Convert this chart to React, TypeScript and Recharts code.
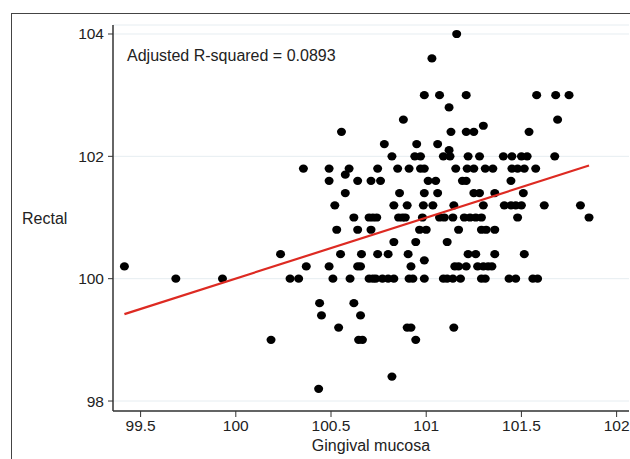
import { ScatterChart, Scatter, XAxis, YAxis, CartesianGrid, Label } from 'recharts';

// rectal temperature rows and the gingival readings found on each row
const rectalLevels = [
  104, 103.6, 103, 102.8, 102.6, 102.5, 102.4, 102.2, 102.1, 102, 101.8, 101.7, 101.6, 101.4,
  101.2, 101, 100.8, 100.6, 100.4, 100.3, 100.2, 100, 99.6, 99.4, 99.2, 99, 98.4, 98.2,
];
const gingivalByLevel = [
  [101.16],
  [101.03],
  [100.99, 101.07, 101.21, 101.58, 101.68, 101.75],
  [101.12],
  [100.88, 101.69],
  [101.3],
  [100.555, 101.13, 101.21, 101.25, 101.54],
  [100.78, 100.95, 101.06],
  [101.12],
  [100.82, 100.94, 100.97, 101.09, 101.125, 101.22, 101.28, 101.405, 101.45, 101.5, 101.53, 101.675],
  [100.355, 100.49, 100.595, 100.745, 100.85, 100.91, 100.97, 100.99, 101.155, 101.215, 101.25, 101.31, 101.35, 101.45, 101.48, 101.515, 101.575],
  [100.575],
  [100.49, 100.64, 100.71, 100.76, 101.01, 101.05, 101.19, 101.21, 101.445],
  [100.575, 100.86, 100.99, 101.06, 101.25, 101.28, 101.36, 101.51],
  [100.52, 100.83, 100.9, 100.985, 101.035, 101.145, 101.3, 101.41, 101.445, 101.47, 101.5, 101.62, 101.81],
  [100.62, 100.7, 100.72, 100.74, 100.855, 100.875, 100.89, 100.98, 101.07, 101.095, 101.14, 101.2, 101.23, 101.26, 101.29, 101.48, 101.855],
  [100.53, 100.64, 100.71, 100.965, 101.0, 101.17, 101.29, 101.315, 101.36],
  [100.83, 100.945, 101.11],
  [100.235, 100.55, 100.66, 100.745, 100.8, 100.905, 101.22, 101.26, 101.36, 101.515],
  [100.99],
  [99.415, 100.37, 100.49, 100.64, 100.655, 100.92, 101.15, 101.17, 101.21, 101.27, 101.3, 101.325, 101.345],
  [99.685, 99.93, 100.285, 100.33, 100.51, 100.6, 100.7, 100.72, 100.735, 100.77, 100.8, 100.83, 100.91, 100.93, 100.99, 101.09, 101.11, 101.14, 101.18, 101.29, 101.31, 101.435, 101.47, 101.56, 101.585],
  [100.44, 100.62],
  [100.45, 100.655],
  [100.54, 100.9, 100.92, 101.145],
  [100.185, 100.645, 100.665, 100.945],
  [100.82],
  [100.435],
];

// fitted line end points
const fitX = [99.415, 101.855];
const fitY = [99.42, 101.85];

const xTicks = [99.5, 100, 100.5, 101, 101.5, 102];
const yTicks = [98, 100, 102, 104];

const points = rectalLevels.flatMap((r, i) => gingivalByLevel[i].map((g) => ({ x: g, y: r })));
const fit = fitX.map((x, i) => ({ x, y: fitY[i] }));

const FONT = 'Liberation Sans, Arial, sans-serif';
const TICK = { fontFamily: FONT, fontSize: 15.5, fill: '#222' };
const LABEL = { fontFamily: FONT, fontSize: 16, fill: '#222' };
const AXIS_LINE = { stroke: '#333', strokeWidth: 1.5 };

const Dot = (props: any) => <ellipse cx={props.cx} cy={props.cy} rx={4.5} ry={4.1} fill="#000" />;

export default function App() {
  return (
    <div style={{ position: 'absolute', left: 0, top: 0, width: 630, height: 459, background: '#fff', overflow: 'hidden' }}>
      <div
        style={{
          position: 'absolute',
          left: 11,
          top: 13,
          right: -4,
          bottom: -4,
          borderLeft: '1.5px solid #444',
          borderTop: '1.5px solid #444',
        }}
      />
      <ScatterChart width={630} height={459} margin={{ top: 25, right: 1, bottom: 0, left: 0 }}>
        <CartesianGrid horizontal vertical={false} stroke="#e6edf1" />
        <XAxis
          type="number"
          dataKey="x"
          domain={[99.355, 102.065]}
          ticks={xTicks}
          allowDataOverflow
          height={48}
          tick={TICK}
          tickSize={6}
          tickMargin={3}
          axisLine={AXIS_LINE}
          tickLine={{ stroke: '#333' }}
        >
          <Label value="Gingival mucosa" position="insideBottom" offset={8} style={LABEL} />
        </XAxis>
        <YAxis
          type="number"
          dataKey="y"
          domain={[97.837, 104.147]}
          ticks={yTicks}
          allowDataOverflow
          width={113}
          tick={TICK}
          tickSize={5}
          tickMargin={4}
          axisLine={AXIS_LINE}
          tickLine={{ stroke: '#333' }}
        >
          <Label value="Rectal" position="insideLeft" offset={22} angle={0} style={LABEL} />
        </YAxis>
        <Scatter data={points} shape={Dot} isAnimationActive={false} />
        <Scatter
          data={fit}
          line={{ stroke: '#dd2a22', strokeWidth: 2.2 }}
          shape={() => <g />}
          isAnimationActive={false}
        />
      </ScatterChart>
      <div
        style={{
          position: 'absolute',
          left: 127,
          top: 47,
          fontFamily: FONT,
          fontSize: 16,
          color: '#222',
          whiteSpace: 'nowrap',
        }}
      >
        Adjusted R-squared = 0.0893
      </div>
    </div>
  );
}
